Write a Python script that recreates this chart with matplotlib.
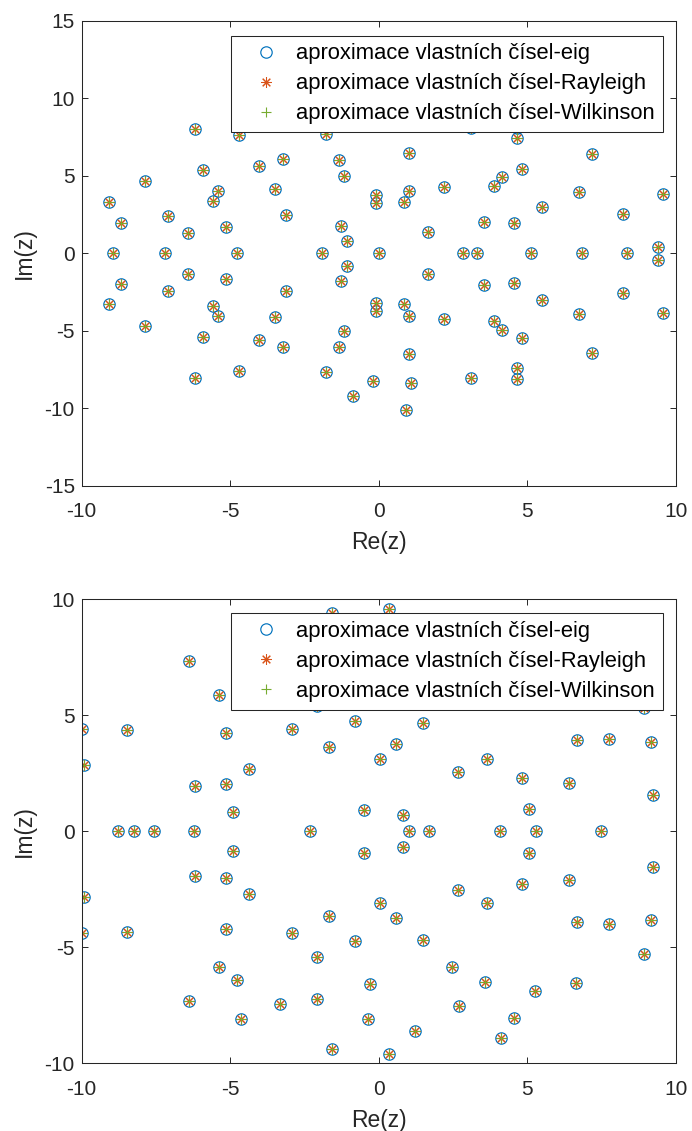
import matplotlib
matplotlib.use('Agg')
import matplotlib.pyplot as plt

plt.rcParams['font.family'] = ['Liberation Sans', 'DejaVu Sans']
plt.rcParams['axes.unicode_minus'] = False

# --- data: eigenvalue approximations, first matrix ---
top_re = [-8.94, -7.19, -4.79, -1.90, 0.00, 2.84, 3.29, 5.12, 6.82, 8.34,
          -1.06, -1.06, -6.43, -6.43, -5.14, -5.14, -8.69, -8.69, -1.29, -1.29,
          -7.09, -7.09, -3.12, -3.12, -9.07, -9.07, -5.57, -5.57, -5.43, -5.43,
          -3.50, -3.50, -0.11, -0.11, -0.11, -0.11, -7.87, -7.87, -1.17, -1.17,
          -5.91, -5.91, -4.02, -4.02, -3.22, -3.22, -1.35, -1.35, -4.71, -4.71,
          -1.78, -1.78, -6.18, -6.18, -0.21, -0.21, -0.87, -0.87, 9.38, 9.38,
          1.66, 1.66, 3.54, 3.54, 4.56, 4.56, 8.20, 8.20, 5.50, 5.50,
          0.83, 0.83, 1.02, 1.02, 2.19, 2.19, 3.88, 3.88, 4.13, 4.13,
          4.83, 4.83, 6.72, 6.72, 9.57, 9.57, 7.18, 7.18, 1.02, 1.02,
          4.64, 4.64, 4.64, 4.64, 3.10, 3.10, 1.07, 1.07, 0.92, 0.92]
top_im = [0, 0, 0, 0, 0, 0, 0, 0, 0, 0,
          0.79, -0.79, 1.34, -1.34, 1.68, -1.68, 1.98, -1.98, 1.79, -1.79,
          2.41, -2.41, 2.46, -2.46, 3.30, -3.30, 3.40, -3.40, 4.03, -4.03,
          4.14, -4.14, 3.23, -3.23, 3.75, -3.75, 4.69, -4.69, 5.00, -5.00,
          5.38, -5.38, 5.62, -5.62, 6.07, -6.07, 6.03, -6.03, 7.62, -7.62,
          7.68, -7.68, 8.03, -8.03, 8.24, -8.24, 9.19, -9.19, 0.43, -0.43,
          1.36, -1.36, 2.05, -2.05, 1.94, -1.94, 2.54, -2.54, 3.01, -3.01,
          3.30, -3.30, 4.03, -4.03, 4.26, -4.26, 4.37, -4.37, 4.95, -4.95,
          5.47, -5.47, 3.94, -3.94, 3.83, -3.83, 6.44, -6.44, 6.48, -6.48,
          7.43, -7.43, 8.12, -8.12, 8.07, -8.07, 8.37, -8.37, 10.12, -10.12]

# --- data: eigenvalue approximations, second matrix ---
bot_re = [-8.78, -8.24, -7.56, -6.22, -2.32, 1.00, 1.70, 4.07, 5.28, 7.46,
          -4.92, -4.92, -0.50, -0.50, -6.20, -6.20, -5.13, -5.13, -4.36, -4.36,
          -9.92, -9.92, -9.98, -9.98, -8.47, -8.47, -5.13, -5.13, -2.91, -2.91,
          -1.67, -1.67, -0.81, -0.81, 0.05, 0.05, -2.07, -2.07, -5.37, -5.37,
          -4.77, -4.77, -0.31, -0.31, -6.39, -6.39, -3.34, -3.34, -2.07, -2.07,
          -4.64, -4.64, -0.38, -0.38, -1.57, -1.57, 0.82, 0.82, 5.05, 5.05,
          9.23, 9.23, 6.41, 6.41, 4.83, 4.83, 2.66, 2.66, 3.65, 3.65,
          0.58, 0.58, 1.48, 1.48, 6.67, 6.67, 7.75, 7.75, 9.15, 9.15,
          8.93, 8.93, 2.46, 2.46, 3.56, 3.56, 5.26, 5.26, 6.64, 6.64,
          2.68, 2.68, 4.54, 4.54, 4.11, 4.11, 1.20, 1.20, 0.35, 0.35]
bot_im = [0, 0, 0, 0, 0, 0, 0, 0, 0, 0,
          0.84, -0.84, 0.92, -0.92, 1.95, -1.95, 2.03, -2.03, 2.69, -2.69,
          2.84, -2.84, 4.40, -4.40, 4.36, -4.36, 4.23, -4.23, 4.40, -4.40,
          3.64, -3.64, 4.73, -4.73, 3.10, -3.10, 5.40, -5.40, 5.87, -5.87,
          6.43, -6.43, 6.57, -6.57, 7.32, -7.32, 7.46, -7.46, 7.23, -7.23,
          8.08, -8.08, 8.11, -8.11, 9.40, -9.40, 0.68, -0.68, 0.94, -0.94,
          1.56, -1.56, 2.09, -2.09, 2.28, -2.28, 2.54, -2.54, 3.10, -3.10,
          3.74, -3.74, 4.68, -4.68, 3.92, -3.92, 3.99, -3.99, 3.83, -3.83,
          5.31, -5.31, 5.87, -5.87, 6.49, -6.49, 6.89, -6.89, 6.53, -6.53,
          7.52, -7.52, 8.07, -8.07, 8.93, -8.93, 8.60, -8.60, 9.58, -9.58]

labels = ['aproximace vlastních čísel-eig',
          'aproximace vlastních čísel-Rayleigh',
          'aproximace vlastních čísel-Wilkinson']
x_ticks = [-10, -5, 0, 5, 10]

AX_COLOR = '#262626'
BLUE = '#0072BD'
ORANGE = '#D95319'
GREEN = '#77AC30'


def draw_panel(ax, re, im, ylim, yticks, leg_anchor):
    # the three methods give (visually) the same eigenvalues
    ax.plot(re, im, linestyle='none', marker='o', ms=8.2, mfc='none',
            mec=BLUE, mew=0.85, label=labels[0])
    ax.plot(re, im, linestyle='none', marker=(8, 2, 0), ms=7.6,
            color=ORANGE, mec=ORANGE, mew=0.75, label=labels[1])
    ax.plot(re, im, linestyle='none', marker='+', ms=7.6,
            color=GREEN, mec=GREEN, mew=0.8, label=labels[2])

    ax.set_xlim(-10, 10)
    ax.set_ylim(*ylim)
    ax.set_xticks(x_ticks)
    ax.set_yticks(yticks)
    ax.tick_params(direction='in', top=True, right=True, length=4.3,
                   width=0.7, colors=AX_COLOR, labelsize=15)
    ax.tick_params(axis='x', pad=12)
    ax.tick_params(axis='y', pad=5)
    for sp in ax.spines.values():
        sp.set_color(AX_COLOR)
        sp.set_linewidth(0.75)
    ax.set_xlabel('Re(z)', fontsize=16.5, color=AX_COLOR, labelpad=7)
    ax.set_ylabel('Im(z)', fontsize=16.5, color=AX_COLOR, labelpad=6)

    leg = ax.legend(loc='upper right', bbox_to_anchor=leg_anchor,
                    borderaxespad=0, fontsize=15.85, numpoints=1,
                    fancybox=False, framealpha=1, edgecolor=AX_COLOR,
                    borderpad=0.35, handlelength=2.4, handletextpad=0.2,
                    labelspacing=0.41)
    leg.get_frame().set_linewidth(0.75)


fig = plt.figure(figsize=(6.92, 11.31), dpi=100)
ax1 = fig.add_axes([0.1181, 0.5706, 0.8588, 0.4109])
ax2 = fig.add_axes([0.1181, 0.0599, 0.8588, 0.4103])

draw_panel(ax1, top_re, top_im, (-15, 15), [-15, -10, -5, 0, 5, 10, 15],
           (0.9776, 0.9684))
draw_panel(ax2, bot_re, bot_im, (-10, 10), [-10, -5, 0, 5, 10],
           (0.9776, 0.9698))

fig.savefig('out.png', dpi=100)
